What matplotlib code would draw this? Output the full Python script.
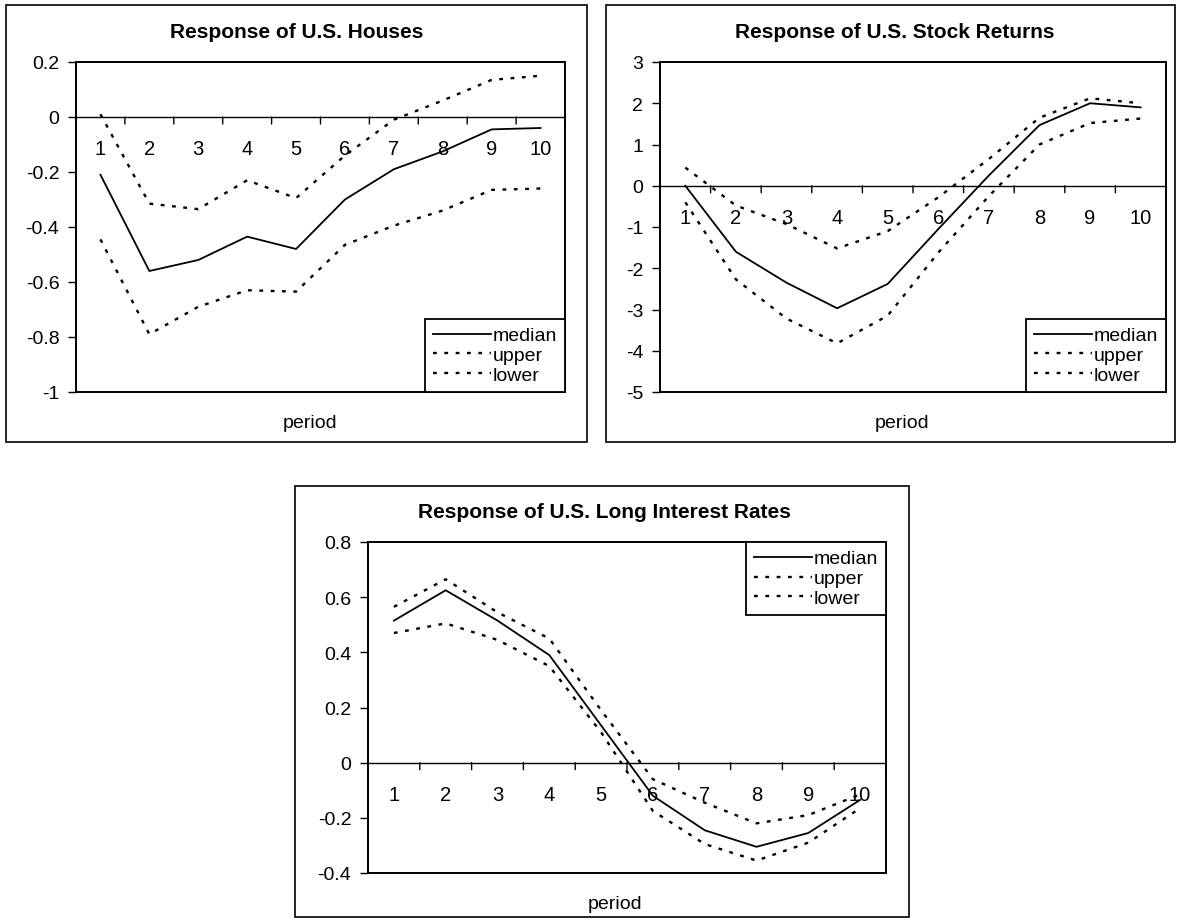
import matplotlib
matplotlib.use("Agg")
import matplotlib.pyplot as plt
from matplotlib.patches import Rectangle

plt.rcParams['font.family'] = ['Liberation Sans', 'DejaVu Sans']
plt.rcParams['axes.unicode_minus'] = False

periods = list(range(1, 11))

houses_median = [-0.21, -0.56, -0.52, -0.435, -0.48, -0.30, -0.19, -0.125, -0.045, -0.04]
houses_upper = [0.01, -0.315, -0.335, -0.23, -0.295, -0.14, -0.01, 0.06, 0.135, 0.15]
houses_lower = [-0.445, -0.79, -0.69, -0.63, -0.635, -0.465, -0.395, -0.34, -0.265, -0.26]
houses_yticks = [0.2, 0, -0.2, -0.4, -0.6, -0.8, -1]

stocks_median = [0.0, -1.6, -2.35, -2.97, -2.38, -1.05, 0.25, 1.47, 2.0, 1.9]
stocks_upper = [0.44, -0.48, -0.93, -1.52, -1.1, -0.28, 0.65, 1.65, 2.12, 2.0]
stocks_lower = [-0.4, -2.27, -3.22, -3.82, -3.15, -1.62, -0.25, 1.0, 1.52, 1.63]
stocks_yticks = [3, 2, 1, 0, -1, -2, -3, -4, -5]

rates_median = [0.515, 0.625, 0.515, 0.39, 0.135, -0.12, -0.245, -0.305, -0.255, -0.135]
rates_upper = [0.565, 0.665, 0.545, 0.45, 0.19, -0.06, -0.145, -0.22, -0.19, -0.115]
rates_lower = [0.47, 0.505, 0.445, 0.35, 0.11, -0.175, -0.295, -0.355, -0.29, -0.165]
rates_yticks = [0.8, 0.6, 0.4, 0.2, 0, -0.2, -0.4]

W, H = 1179, 920
fig = plt.figure(figsize=(W / 100, H / 100), dpi=100)
dots = (0, (1.6, 3.2))


def frame(l, t, r, b):
    fig.patches.append(Rectangle((l / W, 1 - b / H), (r - l) / W, (b - t) / H,
                                 transform=fig.transFigure, fill=False,
                                 edgecolor='black', linewidth=1.2))


def panel(box, title, title_x, title_y, xlab_x, xlab_y,
          med, up, low, yticks, legend_loc):
    l, t, r, b = box
    ax = fig.add_axes([l / W, 1 - b / H, (r - l) / W, (b - t) / H])
    ax.plot(periods, med, color='black', lw=1.3, label='median')
    ax.plot(periods, up, color='black', lw=1.7, ls=dots, label='upper')
    ax.plot(periods, low, color='black', lw=1.7, ls=dots, label='lower')
    ax.set_xlim(0.5, 10.5)
    ax.set_ylim(min(yticks), max(yticks))
    ax.axhline(0, color='black', lw=1.0)
    for s in ax.spines.values():
        s.set_linewidth(1.4)
    # category boundary ticks on the zero line, labels at centres
    for k in range(1, 11):
        ax.annotate('', xy=(k + 0.5, 0), xytext=(0, -7), textcoords='offset pixels',
                    xycoords='data',
                    arrowprops=dict(arrowstyle='-', color='black', lw=1.0,
                                    shrinkA=0, shrinkB=0))
        ax.annotate(str(k), xy=(k, 0), xytext=(0, -32), textcoords='offset pixels',
                    ha='center', va='center', fontsize=14.5)
    ax.set_xticks([])
    ax.set_yticks(yticks)
    ax.set_yticklabels(['%g' % v for v in yticks], fontsize=14)
    ax.tick_params(axis='y', direction='out', length=6, width=1.0, pad=6)
    leg = ax.legend(loc=legend_loc, borderaxespad=0, fontsize=14,
                    handlelength=3.0, handletextpad=0.1, labelspacing=0.12,
                    borderpad=0.4, fancybox=False, framealpha=1)
    leg.get_frame().set_edgecolor('black')
    leg.get_frame().set_linewidth(1.3)
    fig.text(title_x / W, 1 - title_y / H, title, ha='center', va='center',
             fontsize=15, fontweight='bold')
    fig.text(xlab_x / W, 1 - xlab_y / H, 'period', ha='center', va='center',
             fontsize=14)
    return ax


frame(6, 6, 587, 443)
panel((76, 63, 565, 393), 'Response of U.S. Houses', 297, 33, 310, 423,
      houses_median, houses_upper, houses_lower, houses_yticks, 'lower right')

frame(606, 6, 1175, 443)
panel((660, 63, 1166, 393), 'Response of U.S. Stock Returns', 895, 33, 902, 423,
      stocks_median, stocks_upper, stocks_lower, stocks_yticks, 'lower right')

frame(295, 487, 909, 918)
panel((368, 543, 886, 874), 'Response of U.S. Long Interest Rates', 604, 513, 615, 905,
      rates_median, rates_upper, rates_lower, rates_yticks, 'upper right')

fig.savefig('out.png', dpi=100)
